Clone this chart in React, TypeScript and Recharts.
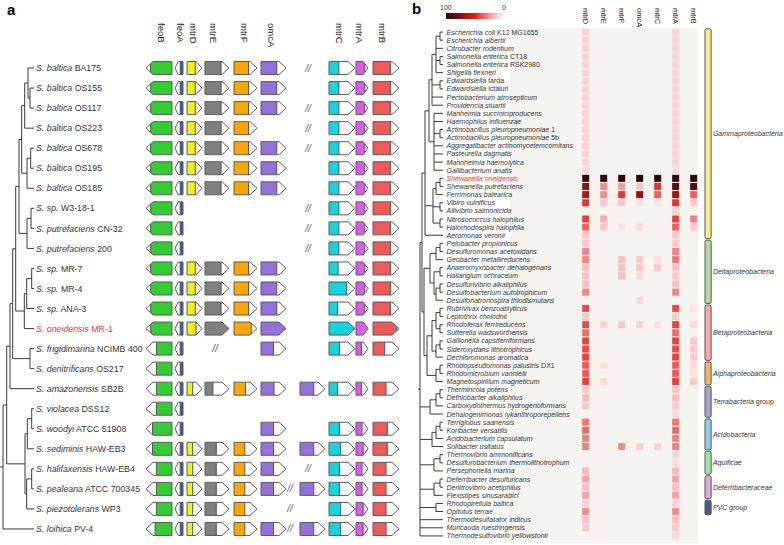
import { ComposedChart, XAxis, YAxis, Line, Scatter, ReferenceArea } from 'recharts';

const FONT = '"Liberation Sans", Arial, Helvetica, sans-serif';

// ---------- panel a: Shewanella strains ----------
const STRAINS_A: [string, string][] = [
  ['S. baltica', 'BA175'], ['S. baltica', 'OS155'], ['S. baltica', 'OS117'], ['S. baltica', 'OS223'],
  ['S. baltica', 'OS678'], ['S. baltica', 'OS195'], ['S. baltica', 'OS185'],
  ['S. sp.', 'W3-18-1'], ['S. putrefaciens', 'CN-32'], ['S. putrefaciens', '200'],
  ['S. sp.', 'MR-7'], ['S. sp.', 'MR-4'], ['S. sp.', 'ANA-3'], ['S. oneidensis', 'MR-1'],
  ['S. frigidimarina', 'NCIMB 400'], ['S. denitrificans', 'OS217'], ['S. amazonensis', 'SB2B'],
  ['S. violacea', 'DSS12'], ['S. woodyi', 'ATCC 51908'], ['S. sediminis', 'HAW-EB3'],
  ['S. halifaxensis', 'HAW-EB4'], ['S. pealeana', 'ATCC 700345'], ['S. piezotolerans', 'WP3'], ['S. loihica', 'PV-4'],
];
const HIGHLIGHT_A = 13;

// tree: [node depth, ...children]; a plain number is a leaf row
const TREE_A = [0,
  [3.7,
    [7,
      [9.7,
        [12.7,
          [16,
            [18.7, [21.7, [25, 0, [27, 1, 2]], 3], [24, [27.7, 4, 5], 6]],
            [24, [28, 7, 8], 9]],
          [21.3, [23.7, [28.7, 10, 11], 12], 13]],
        [27, 14, 15]],
      16],
    [22, [24.3, [28.7, 17, 18], 19], [23.7, [28.7, 20, 21], 22]]],
  23];
const TIP_A = 31;

const GENE_HEADERS = ['feoB', 'feoA', 'mtrD', 'mtrE', 'mtrF', 'omcA', 'mtrC', 'mtrA', 'mtrB'];

// coloured fraction of each gene (0 = gene absent)
const FEOB = [.82, .82, .82, .82, .82, .82, .82, .82, .82, .82, .82, .82, .82, .82, .6, .6, .6, .6, .75, .75, .6, .6, .6, .65];
const FEOA = [.35, .35, .35, .35, .35, .35, .35, .35, .35, .35, .35, .35, .35, .35, .35, .35, .35, .35, .35, .35, .35, .35, .35, .35];
const MTRD = [.55, .55, .55, .55, .55, .55, .55, 0, 0, 0, .55, .55, .55, .6, 0, 0, .38, 0, 0, .38, .38, .38, .38, .38];
const MTRE = [.67, .67, .67, .67, .67, .67, .67, 0, 0, 0, .67, .67, .67, .95, 0, 0, .33, 0, 0, .47, .47, .47, .47, .47];
const MTRF = [.63, .63, .63, .63, .63, .63, .63, 0, 0, 0, .63, .63, .63, .75, 0, 0, .5, 0, 0, .47, .47, .47, .47, .47];
const OMCA = [.63, .63, .63, 0, .63, .63, .63, 0, 0, 0, .63, .63, .63, .95, .5, 0, .52, 0, .5, .5, .5, .5, 0, .5];
const OMCA2 = [0, 0, 0, 0, 0, 0, 0, 0, 0, 0, 0, 0, 0, 0, 0, 0, .55, 0, 0, .55, 0, .55, 0, .55];
const MTRC = [.38, .38, .38, .38, .38, .38, .38, .38, .38, .38, .35, .68, .33, .95, .4, 0, .33, 0, .4, .45, .4, .4, .45, .45];
const MTRA = [.73, .73, .73, .73, .73, .73, .73, .73, .73, .73, .73, .73, .73, 1, .45, 0, .45, 0, .5, .6, .5, .5, .6, .6];
const MTRB = [.67, .67, .67, .67, .67, .67, .67, .67, .67, .67, .67, .67, .67, .92, .45, 0, .5, 0, .55, .55, .5, .5, .5, .5];
// where the locus is split ("//")
const BREAKS_A = ['C', null, 'C', 'C', 'C', null, null, 'C', 'C', 'C', null, null, null, null, 'D', null, null, null, null, null, 'C', 'X', 'X', 'X'];

// layout of panel a (gene axis units = px)
const GENE_DOMAIN = [0, 400];
const GENE_PX = 400 / (GENE_DOMAIN[1] - GENE_DOMAIN[0]);
const HEADER_X_A = [161, 180, 193, 213, 244, 271, 339, 359, 382];
const GENE_LAYOUT: Record<string, { from: number; to: number; dir: number; color: string; fill: number[] }> = {
  feoB: { from: 146, to: 172, dir: -1, color: '#33cc33', fill: FEOB },
  feoA: { from: 175, to: 183, dir: -1, color: '#3a56c4', fill: FEOA },
  mtrD: { from: 187, to: 202, dir: 1, color: '#f7ee1a', fill: MTRD },
  mtrE: { from: 205, to: 229, dir: 1, color: '#808080', fill: MTRE },
  mtrF: { from: 234, to: 257, dir: 1, color: '#ffa500', fill: MTRF },
  omcA: { from: 261, to: 286, dir: 1, color: '#9370db', fill: OMCA },
  omcA2: { from: 300, to: 325, dir: 1, color: '#9370db', fill: OMCA2 },
  mtrC: { from: 329, to: 355, dir: 1, color: '#16d3de', fill: MTRC },
  mtrA: { from: 356, to: 368, dir: 1, color: '#d85ce8', fill: MTRA },
  mtrB: { from: 373, to: 399, dir: 1, color: '#ec5a5a', fill: MTRB },
};
const BREAK_X: Record<string, number> = { C: 308, X: 290, D: 215 };

// ---------- panel b: heatmap ----------
const TAXA_B: [string, string][] = [
  ['Escherichia coli', 'K12 MG1655'], ['Escherichia albertii', ''], ['Citrobacter rodentium', ''],
  ['Salmonella enterica', 'CT18'], ['Salmonella enterica', 'RSK2980'], ['Shigella flexneri', ''],
  ['Edwardsiella', 'tarda'], ['Edwardsiella', 'ictaluri'], ['Pectobacterium atrosepticum', ''], ['Providencia stuartii', ''],
  ['Manheimia succiniciproducens', ''], ['Haemophilus influenzae', ''], ['Actinobacillus pleuropneumoniae', '1'],
  ['Actinobacillus pleuropneumoniae', '5b'], ['Aggregatibacter actinomycetemcomitans', ''], ['Pasteurella dagmatis', ''],
  ['Mannheimia haemolytica', ''], ['Gallibacterium anatis', ''],
  ['Shewanella oneidensis', ''], ['Shewanella putrefaciens', ''], ['Ferrimonas balearica', ''], ['Vibiro vulnificus', ''],
  ['Aliivibrio salmonicida', ''], ['Nitrosococcus halophilus', ''], ['Halorhodospira halophila', ''], ['Aeromonas veronii', ''],
  ['Pelobacter propionicus', ''], ['Desulfuromonas acetoxidans', ''], ['Geobacter metallireducens', ''],
  ['Anaeromyxobacter dehalogenans', ''], ['Haliangium ochraceum', ''], ['Desulfurivibrio alkaliphilus', ''],
  ['Desulfobacterium autotrophicum', ''], ['Desulfonatronospira thiodismutans', ''],
  ['Rubrivivax benzoatilyticus', ''], ['Leptothrix cholodnii', ''], ['Rhodoferax ferrireducens', ''],
  ['Sutterella wadsworthensis', ''], ['Gallionella capsiferriformans', ''], ['Sideroxydans lithotrophicus', ''],
  ['Dechloromonas aromatica', ''], ['Rhodopseudomonas palustris', 'DX1'], ['Rhodomicrobium vannielii', ''],
  ['Magnetospirillum magneticum', ''], ['Thermincola potens', ''], ['Dethiobacter alkaliphilus', ''],
  ['Carboxydothermus hydrogenoformans', ''], ['Dehalogenimonas lykanthroporepellens', ''],
  ['Terriglobus saanensis', ''], ['Koribacter versatilis', ''], ['Acidobacterium capsulatum', ''], ['Solibacter usitatus', ''],
  ['Thermovibrio ammonificans', ''], ['Desulfurobacterium thermolithotrophum', ''], ['Persephonella marina', ''],
  ['Deferribacter desulfuricans', ''], ['Denitrovibrio acetiphilus', ''], ['Flexistipes sinusarabici', ''],
  ['Rhodopirellula baltica', ''], ['Opitutus terrae', ''], ['Thermodesulfatator indicus', ''],
  ['Muricauda ruestringensis', ''], ['Thermodesulfovibrio yellowstonii', ''],
];
const HIGHLIGHT_B = 18;

const TREE_B = [0,
  [2,
    [5,
      [9,
        [12, [16, [20, 0, 1], 2, [20, 3, 4], 5], [20, 6, 7], 8, 9],
        [14, 10, 11, [20, 12, 13], 14, 15, 16, 17]],
      [13, [16, [20, 18, 19], 20], [20, 21, 22], [20, 23, 24]],
      25],
    [4,
      [10, [16, [20, 26, 27], 28], [14, [20, 29, 30], [16, [20, 31, 32], 33]]],
      [7, [12, [16, [20, 34, 35], [20, 36, 37]], [16, [20, 38, 39], 40]], [16, [20, 41, 42], 43]]]],
  [10, [16, [20, 44, 45], 46], 47],
  [12, [16, [20, 48, 49], 50], 51],
  [14, [20, 52, 53], 54],
  [14, [20, 55, 56], 57],
  [16, 58, 59],
  60, 61, 62];
const TIP_B = 23;

const HEAT_GENES = ['mtrD', 'mtrE', 'mtrF', 'omcA', 'mtrC', 'mtrA', 'mtrB'];
// identity score, 0..100 (0 = not found)
const MTRD_B = [
  10, 10, 10, 10, 10, 10, 10, 10, 10, 10,
  10, 10, 10, 10, 10, 10, 10, 8, 100, 72,
  65, 45, 0, 42, 35, 12, 12, 27, 27, 14,
  14, 14, 27, 0, 40, 12, 40, 32, 42, 40,
  42, 36, 36, 42, 12, 15, 12, 0, 30, 33,
  28, 28, 0, 0, 15, 20, 14, 20, 10, 25,
  14, 12, 0];
const MTRE_B = [
  0, 0, 0, 0, 0, 0, 0, 0, 0, 0,
  0, 0, 0, 0, 0, 0, 0, 0, 100, 25,
  25, 12, 0, 18, 12, 0, 0, 0, 0, 0,
  0, 0, 0, 0, 0, 0, 10, 0, 0, 0,
  0, 7, 0, 8, 0, 0, 0, 0, 0, 0,
  0, 0, 0, 0, 0, 0, 0, 0, 0, 0,
  0, 0, 0];
const MTRF_B = [
  0, 0, 0, 0, 0, 0, 0, 0, 0, 0,
  0, 0, 0, 0, 0, 0, 0, 0, 100, 22,
  45, 12, 0, 0, 6, 0, 0, 0, 14, 14,
  15, 0, 0, 0, 0, 0, 13, 0, 0, 0,
  0, 0, 0, 0, 0, 0, 0, 0, 0, 0,
  0, 25, 0, 0, 0, 0, 0, 0, 0, 0,
  0, 0, 0];
const OMCA_B = [
  0, 0, 0, 0, 0, 0, 0, 0, 0, 0,
  0, 0, 0, 0, 0, 0, 0, 0, 100, 13,
  70, 6, 0, 0, 8, 0, 0, 0, 12, 12,
  8, 0, 0, 8, 0, 0, 10, 0, 0, 0,
  0, 0, 0, 0, 0, 0, 0, 0, 0, 0,
  0, 10, 0, 0, 0, 0, 0, 0, 0, 0,
  0, 0, 0];
const MTRC_B = [
  0, 0, 0, 0, 0, 0, 0, 0, 0, 0,
  0, 0, 0, 0, 0, 0, 0, 0, 100, 45,
  35, 6, 0, 0, 0, 0, 0, 0, 7, 12,
  0, 0, 0, 0, 0, 0, 6, 0, 0, 0,
  0, 0, 0, 0, 0, 0, 0, 0, 0, 0,
  0, 10, 0, 0, 0, 0, 0, 0, 0, 0,
  0, 0, 0];
const MTRA_B = [
  10, 10, 10, 10, 10, 10, 10, 10, 10, 10,
  10, 10, 10, 10, 10, 10, 10, 8, 100, 88,
  68, 45, 10, 42, 35, 12, 12, 27, 30, 14,
  12, 14, 27, 0, 40, 12, 42, 32, 42, 40,
  42, 36, 36, 42, 12, 15, 12, 8, 30, 33,
  28, 28, 10, 8, 15, 20, 14, 20, 10, 25,
  14, 12, 9];
const MTRB_B = [
  0, 0, 0, 0, 0, 0, 0, 0, 0, 0,
  0, 0, 0, 0, 0, 0, 0, 0, 100, 88,
  35, 12, 0, 28, 12, 0, 0, 0, 0, 0,
  0, 0, 0, 0, 6, 0, 8, 0, 12, 12,
  12, 8, 6, 12, 0, 0, 0, 0, 0, 0,
  0, 0, 0, 0, 0, 0, 0, 0, 0, 0,
  0, 0, 0];
const HEAT_COLS = [MTRD_B, MTRE_B, MTRF_B, OMCA_B, MTRC_B, MTRA_B, MTRB_B];

const GROUP_NAMES: [string, string][] = [
  ['Gammaproteobacteria', ''], ['Deltaproteobacteria', ''], ['Betaproteobacteria', ''], ['Alphaproteobacteria', ''],
  ['Terrabacteria', 'group'], ['Acidobacteria', ''], ['Aquificae', ''], ['Deferribacteraceae', ''], ['PVC group', ''],
];
const GROUP_START = [0, 26, 34, 41, 44, 48, 52, 55, 58];
const GROUP_END = [25, 33, 40, 43, 47, 51, 54, 57, 59];
const GROUP_COLORS = ['#f7e98f', '#b9d7a2', '#f2aca3', '#f4b26c', '#aba4d0', '#92cbea', '#97e6a4', '#dcadd2', '#4c5898'];

// layout of panel b (heat axis: one unit per column)
const HEAT_DOMAIN = [-10.32, 11.02];
const GROUP_BAR_X = [6.63, 6.97];
const GROUP_LABEL_X = 7.07;

// ---------- helpers ----------
type Seg = { x: number; y: number | null };

function buildTree(node: any, tip: number, segs: Seg[]): { y: number; d: number } {
  if (typeof node === 'number') return { y: node, d: tip };
  const [d, ...kids] = node;
  const placed = kids.map((k: any) => buildTree(k, tip, segs));
  placed.forEach((c: any) => segs.push({ x: d, y: c.y }, { x: c.d, y: c.y }, { x: c.d, y: null }));
  const ys = placed.map((c: any) => c.y);
  const lo = Math.min(...ys);
  const hi = Math.max(...ys);
  segs.push({ x: d, y: lo }, { x: d, y: hi }, { x: d, y: null });
  return { y: (lo + hi) / 2, d };
}

function treeSegments(tree: any, tip: number, stub: number): Seg[] {
  const segs: Seg[] = [];
  const root = buildTree(tree, tip, segs);
  segs.push({ x: tree[0] - stub, y: root.y }, { x: tree[0], y: root.y });
  return segs;
}

// 0 -> white, 50 -> red, 100 -> near black
const heatColor = (v: number) => {
  const t = Math.max(0, Math.min(100, v)) / 100;
  if (t <= 0.5) {
    const k = t / 0.5;
    return `rgb(${Math.round(255 - 20 * k)},${Math.round(255 - 230 * k)},${Math.round(255 - 230 * k)})`;
  }
  const k = (t - 0.5) / 0.5;
  return `rgb(${Math.round(235 - 190 * k)},${Math.round(25 - 20 * k)},${Math.round(25 - 20 * k)})`;
};

const treeA = treeSegments(TREE_A, TIP_A, 3);
const treeB = treeSegments(TREE_B, TIP_B, 2);

const leavesA = STRAINS_A.map(([it, pl], i) => ({ x: TIP_A, y: i, it, pl, red: i === HIGHLIGHT_A }));
const leavesB = TAXA_B.map(([it, pl], i) => ({ x: TIP_B, y: i, it, pl, red: i === HIGHLIGHT_B }));

const genePoints: any[] = [];
Object.keys(GENE_LAYOUT).forEach((gene) => {
  const g = GENE_LAYOUT[gene];
  g.fill.forEach((f, row) => {
    if (f > 0) genePoints.push({ x: (g.from + g.to) / 2, y: row, f, gene });
  });
});
const breakPoints = BREAKS_A.map((b, row) => (b ? { x: BREAK_X[b], y: row } : null)).filter(Boolean);

const heatPoints: any[] = [];
HEAT_COLS.forEach((col, c) => col.forEach((v, row) => {
  if (v > 0) heatPoints.push({ x: c, y: row, v });
}));

const groupLabels = GROUP_NAMES.map(([it, pl], i) => ({ x: GROUP_LABEL_X, y: (GROUP_START[i] + GROUP_END[i]) / 2, it, pl }));

// ---------- shapes ----------
const LeafLabel = (size: number, dx: number) => (p: any) => {
  const s = p.payload;
  return (
    <text x={p.cx + dx} y={p.cy} dy="0.36em" fontSize={size} fontFamily={FONT} fill={s.red ? '#e2372a' : '#333'}>
      <tspan fontStyle="italic">{s.it}</tspan>
      {s.pl ? <tspan>{' ' + s.pl}</tspan> : null}
    </text>
  );
};

const GeneArrow = (props: any) => {
  const { cx, cy, payload } = props;
  const g = GENE_LAYOUT[payload.gene];
  const len = (g.to - g.from) * GENE_PX;
  const h = 13;
  const tip = Math.min(7, len * 0.4);
  const l = cx - len / 2;
  const r = cx + len / 2;
  const t = cy - h / 2;
  const b = cy + h / 2;
  const pts = g.dir > 0
    ? `${l},${t} ${r - tip},${t} ${r},${cy} ${r - tip},${b} ${l},${b}`
    : `${r},${t} ${l + tip},${t} ${l},${cy} ${l + tip},${b} ${r},${b}`;
  const w = len * payload.f;
  const fx = g.dir > 0 ? l : r - w;
  const cut = g.dir > 0 ? l + w : r - w;
  const id = `clip-${payload.gene}-${payload.y}`;
  return (
    <g>
      <clipPath id={id}><polygon points={pts} /></clipPath>
      <polygon points={pts} fill="#fff" />
      <rect x={fx} y={t} width={w} height={h} fill={g.color} clipPath={`url(#${id})`} />
      {payload.f < 0.97 ? <line x1={cut} x2={cut} y1={t} y2={b} stroke="#555" strokeWidth={1} clipPath={`url(#${id})`} /> : null}
      <polygon points={pts} fill="none" stroke="#5a5a5a" strokeWidth={1} />
    </g>
  );
};

const BreakMark = (p: any) => (
  <text x={p.cx} y={p.cy} dy="0.35em" textAnchor="middle" fontSize={10} fontStyle="italic" fontFamily={FONT} fill="#555">//</text>
);

const HeatCell = (p: any) => (
  <rect x={p.cx - 3.5} y={p.cy - 3.5} width={7} height={7} fill={heatColor(p.payload.v)} />
);

const GroupLabel = (p: any) => (
  <text x={p.cx} y={p.cy} dy="0.36em" fontSize={7} fontFamily={FONT} fill="#333">
    <tspan fontStyle="italic">{p.payload.it}</tspan>
    {p.payload.pl ? <tspan>{' ' + p.payload.pl}</tspan> : null}
  </text>
);

const renderGeneHeader = (p: any) => {
  const i = HEADER_X_A.indexOf(p.payload.value);
  return (
    <text x={p.x} y={23} dy="0.35em" transform={`rotate(90, ${p.x}, 23)`} fontSize={9.5} fontFamily={FONT} fill="#222">
      {GENE_HEADERS[i]}
    </text>
  );
};

const renderHeatHeader = (p: any) => (
  <text x={p.x} y={8} dy="0.35em" transform={`rotate(90, ${p.x}, 8)`} fontSize={7.5} fontFamily={FONT} fill="#222">
    {HEAT_GENES[p.payload.value]}
  </text>
);

function PanelA() {
  return (
    <ComposedChart width={400} height={545} margin={{ top: 0, right: 0, bottom: 6, left: 0 }}>
      <XAxis xAxisId="gene" type="number" dataKey="x" domain={GENE_DOMAIN} allowDataOverflow orientation="top" height={58}
        ticks={HEADER_X_A} interval={0} axisLine={false} tickLine={false} tick={renderGeneHeader} />
      <XAxis xAxisId="tree" type="number" dataKey="x" domain={[-3, 397]} allowDataOverflow hide />
      <YAxis yAxisId="row" type="number" dataKey="y" domain={[-0.5, STRAINS_A.length - 0.5]} allowDataOverflow reversed hide />
      <Line xAxisId="tree" yAxisId="row" data={treeA} dataKey="y" type="linear" stroke="#3a3a3a" strokeWidth={1}
        dot={false} activeDot={false} isAnimationActive={false} />
      <Scatter xAxisId="tree" yAxisId="row" data={leavesA} shape={LeafLabel(8.8, 2)} isAnimationActive={false} />
      <Scatter xAxisId="gene" yAxisId="row" data={genePoints} shape={GeneArrow} isAnimationActive={false} />
      <Scatter xAxisId="gene" yAxisId="row" data={breakPoints} shape={BreakMark} isAnimationActive={false} />
    </ComposedChart>
  );
}

function PanelB() {
  return (
    <ComposedChart width={384} height={545} margin={{ top: 0, right: 0, bottom: 5, left: 0 }}>
      <XAxis xAxisId="heat" type="number" dataKey="x" domain={HEAT_DOMAIN} allowDataOverflow orientation="top" height={28}
        ticks={HEAT_GENES.map((_, i) => i)} interval={0} axisLine={false} tickLine={false} tick={renderHeatHeader} />
      <XAxis xAxisId="tree" type="number" dataKey="x" domain={[-20, 364]} allowDataOverflow hide />
      <YAxis yAxisId="row" type="number" dataKey="y" domain={[-0.5, TAXA_B.length - 0.5]} allowDataOverflow reversed hide />
      {GROUP_NAMES.map((_, i) => (
        <ReferenceArea key={i} xAxisId="heat" yAxisId="row" x1={GROUP_BAR_X[0]} x2={GROUP_BAR_X[1]}
          y1={GROUP_START[i] - 0.4} y2={GROUP_END[i] + 0.4}
          shape={(p: any) => (
            <rect x={p.x} y={p.y} width={p.width} height={p.height} rx={1.5} fill={GROUP_COLORS[i]} stroke="#555" strokeWidth={1} />
          )} />
      ))}
      <Line xAxisId="tree" yAxisId="row" data={treeB} dataKey="y" type="linear" stroke="#3a3a3a" strokeWidth={1}
        dot={false} activeDot={false} isAnimationActive={false} />
      <Scatter xAxisId="tree" yAxisId="row" data={leavesB} shape={LeafLabel(7, 3.5)} isAnimationActive={false} />
      <Scatter xAxisId="heat" yAxisId="row" data={heatPoints} shape={HeatCell} isAnimationActive={false} />
      <Scatter xAxisId="heat" yAxisId="row" data={groupLabels} shape={GroupLabel} isAnimationActive={false} />
    </ComposedChart>
  );
}

export default function App() {
  const grad = `linear-gradient(to right, ${heatColor(100)}, ${heatColor(75)}, ${heatColor(50)}, ${heatColor(25)}, ${heatColor(0)})`;
  return (
    <div style={{ position: 'absolute', left: 0, top: 0, width: 784, height: 545, background: '#fff', fontFamily: FONT, overflow: 'hidden' }}>
      <div style={{ position: 'absolute', left: 0, top: 0 }}>
        <PanelA />
      </div>
      <div style={{ position: 'absolute', left: 400, top: 0, width: 384, height: 545 }}>
        <div style={{ position: 'absolute', left: 110, top: 28, width: 188, height: 515, background: '#f6f4f0' }} />
        <div style={{ position: 'absolute', left: 46, top: 13, width: 57, height: 6, background: grad }} />
        <div style={{ position: 'absolute', left: 40, top: 4, fontSize: 7, lineHeight: '8px', color: '#333' }}>100</div>
        <div style={{ position: 'absolute', left: 102, top: 4, fontSize: 7, lineHeight: '8px', color: '#333' }}>0</div>
        <PanelB />
      </div>
      <div style={{ position: 'absolute', left: 7, top: 2, fontSize: 15, fontWeight: 'bold', lineHeight: '15px' }}>a</div>
      <div style={{ position: 'absolute', left: 412, top: 1, fontSize: 15, fontWeight: 'bold', lineHeight: '15px' }}>b</div>
    </div>
  );
}
